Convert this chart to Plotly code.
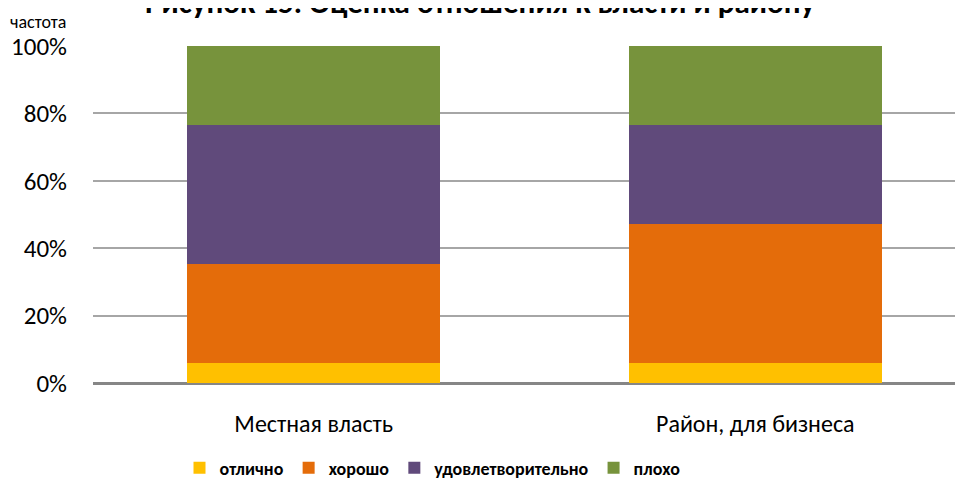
import plotly.graph_objects as go

categories = ["Местная власть", "Район, для бизнеса"]
series_names = ["отлично", "хорошо", "удовлетворительно", "плохо"]
otlichno = [5.9, 5.9]
khorosho = [29.4, 41.2]
udovl = [41.2, 29.4]
plokho = [23.5, 23.5]
y_ticks = [0, 20, 40, 60, 80, 100]
tick_labels = ["0%", "20%", "40%", "60%", "80%", "100%"]

colors = ["#FFC000", "#E46C0A", "#604A7B", "#77933C"]
values = [otlichno, khorosho, udovl, plokho]

FONT = "Carlito, 'Open Sans', sans-serif"

# page has an 8px body margin; layout below is expressed in figure pixels
L, T, PH = 85, 38, 337
fig = go.Figure()
for name, vals, col in zip(series_names, values, colors):
    fig.add_trace(go.Bar(
        x=categories, y=vals, name=name,
        marker=dict(color=col, line=dict(width=0)),
        width=0.574,
    ))

fig.update_layout(
    template="none",
    barmode="stack",
    width=963, height=480,
    margin=dict(l=L, r=0, t=T, b=480 - T - PH, autoexpand=False),
    paper_bgcolor="white", plot_bgcolor="white",
    font=dict(family=FONT, size=18, color="#000000"),
    showlegend=True,
    legend=dict(
        orientation="h", xref="container", yref="container",
        x=424.5 / 963, xanchor="center", y=1 - 460 / 480, yanchor="middle",
        font=dict(family=FONT, size=18, color="#000000", weight="bold"),
        itemwidth=30, traceorder="normal", bgcolor="rgba(0,0,0,0)",
    ),
    xaxis=dict(
        range=[-0.5, -0.5 + (963 - L) / 441.5], showgrid=False, showline=False, zeroline=False,
        ticks="", ticklabelstandoff=24, automargin=False,
        tickfont=dict(family=FONT, size=24),
    ),
    yaxis=dict(
        range=[0, 100], tickvals=y_ticks, ticktext=tick_labels,
        showgrid=True, gridcolor="#A6A6A6", gridwidth=2,
        zeroline=True, zerolinecolor="#868686", zerolinewidth=3,
        showline=False, ticks="", ticklabelstandoff=25, automargin=False,
        tickfont=dict(family=FONT, size=25),
    ),
    annotations=[
        dict(text="частота", xref="paper", yref="paper", x=-L / (963 - L), xanchor="left",
             y=1 + (T - 14) / PH, yanchor="middle", showarrow=False,
             font=dict(family=FONT, size=18, color="#000000")),
        dict(text="<b>Рисунок 15. Оценка отношения к власти и району</b>", xref="paper", yref="paper",
             x=(472 - L) / (963 - L), xanchor="center", y=1 + (T + 6) / PH, yanchor="middle",
             showarrow=False, font=dict(family=FONT, size=31, color="#000000")),
    ],
)

fig.write_html("out.html")
